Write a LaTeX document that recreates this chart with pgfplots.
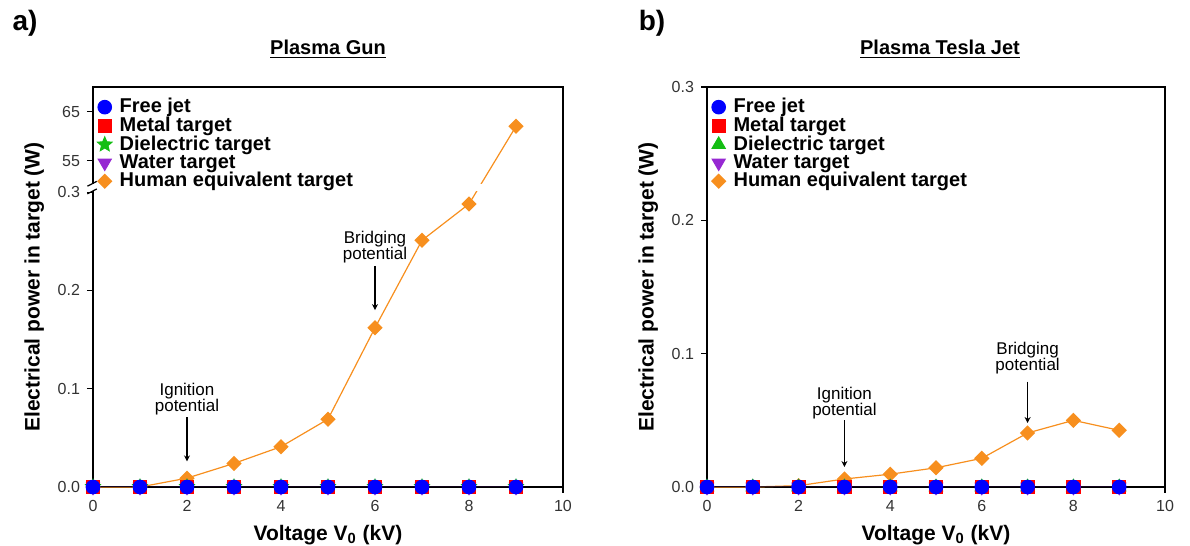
\documentclass[border=0pt]{standalone}
\usepackage{pgfplots}
\pgfplotsset{compat=1.18}
\usepackage{fontspec}
\setmainfont{Liberation Sans}
\usetikzlibrary{plotmarks,arrows.meta}

\definecolor{hjorange}{RGB}{247,143,30}
\definecolor{wpurple}{RGB}{150,40,210}
\definecolor{dgreen}{RGB}{20,190,20}

% filled five-pointed star
\pgfdeclareplotmark{fstar}{%
  \pgfpathmoveto{\pgfpointpolar{90}{\pgfplotmarksize}}%
  \pgfpathlineto{\pgfpointpolar{126}{0.45\pgfplotmarksize}}%
  \pgfpathlineto{\pgfpointpolar{162}{\pgfplotmarksize}}%
  \pgfpathlineto{\pgfpointpolar{198}{0.45\pgfplotmarksize}}%
  \pgfpathlineto{\pgfpointpolar{234}{\pgfplotmarksize}}%
  \pgfpathlineto{\pgfpointpolar{270}{0.45\pgfplotmarksize}}%
  \pgfpathlineto{\pgfpointpolar{306}{\pgfplotmarksize}}%
  \pgfpathlineto{\pgfpointpolar{342}{0.45\pgfplotmarksize}}%
  \pgfpathlineto{\pgfpointpolar{18}{\pgfplotmarksize}}%
  \pgfpathlineto{\pgfpointpolar{54}{0.45\pgfplotmarksize}}%
  \pgfpathclose
  \pgfusepathqfillstroke}

\tikzset{
  note/.style={align=center, font=\fontsize{8.5}{8}\selectfont},
  arr/.style={-{Stealth[length=3pt,width=3pt]}, line width=0.6pt},
}

\pgfplotsset{
  panel/.style={
    scale only axis, height=200pt,
    xmin=0, xmax=10, ymin=0,
    xtick={0,2,...,10},
    tick align=outside, xtick pos=left, ytick pos=left,
    major tick length=3pt,
    axis line style={line width=1pt},
    every tick/.style={black, line width=0.6pt},
    tick label style={font=\fontsize{8}{8}\selectfont, text=black!80},
    /pgf/number format/assume math mode=true,
    label style={font=\bfseries\fontsize{10.5}{11}\selectfont},
    xlabel={Voltage V\textsubscript{0} (kV)},
    ylabel={Electrical power in target (W)},
    clip=false,
    legend style={draw=none, fill=none, at={(0.005,0.978)}, anchor=north west,
      font=\bfseries\fontsize{10}{9}\selectfont, row sep=-0.6pt, inner sep=0.5pt,
      nodes={inner sep=0.6pt}},
    legend cell align=left,
    legend image code/.code={\draw[##1] plot coordinates {(0.13cm,0cm)};
      \path (0cm,0cm) (0.36cm,0cm);},
    reverse legend,
  },
  zero/.style={black!85!wpurple, line width=0.5pt},
  human/.style={hjorange, line width=0.6pt, mark=square*, mark size=2.4pt,
    mark options={rotate=45, fill=hjorange, draw=hjorange}},
  water/.style={zero, mark=triangle*, mark size=3.8pt,
    mark options={rotate=180, fill=wpurple, draw=wpurple}},
  metal/.style={zero, mark=square*, mark size=3.3pt,
    mark options={fill=red, draw=red}},
  freejet/.style={zero, mark=*, mark size=3.4pt,
    mark options={fill=blue, draw=blue}},
}

\begin{document}
\begin{tikzpicture}
\useasboundingbox (-46.5pt,-29.5pt) rectangle (548.5pt,243.5pt);

% a) Plasma Gun, broken y axis
\begin{axis}[panel, width=235pt, at={(0pt,0pt)}, anchor=south west,
  y coord trafo/.code={\pgfmathparse{(#1>1)?(307+(#1-50)*5):(min(#1,1)*1000)}},
  y coord inv trafo/.code={\pgfmathparse{(#1>303.5)?(50+(#1-307)/5):(#1/1000)}},
  ymax=70,
  ytick={0,0.1,0.2,0.3,55,65},
  yticklabels={0.0,0.1,0.2,0.3,55,65},
]
\addplot[human] coordinates {(0,0) (1,0) (2,0.009) (3,0.024) (4,0.041) (5,0.069) (6,0.162) (7,0.251) (8,0.288) (9,62)};
\addlegendentry{Human equivalent target}
\addplot[water] coordinates {(0,0) (1,0) (2,0) (3,0) (4,0) (5,0) (6,0) (7,0) (8,0) (9,0)};
\addlegendentry{Water target}
\addplot[zero, mark=fstar, mark size=3.8pt, mark options={fill=dgreen, draw=dgreen}] coordinates {(0,0) (1,0) (2,0) (3,0) (4,0) (5,0) (6,0) (7,0) (8,0) (9,0)};
\addlegendentry{Dielectric target}
\addplot[metal] coordinates {(0,0) (1,0) (2,0) (3,0) (4,0) (5,0) (6,0) (7,0) (8,0) (9,0)};
\addlegendentry{Metal target}
\addplot[freejet] coordinates {(0,0) (1,0) (2,0) (3,0) (4,0) (5,0) (6,0) (7,0) (8,0) (9,0)};
\addlegendentry{Free jet}
% axis break
\fill[white] (rel axis cs:-0.01,0.741) rectangle (rel axis cs:0.98,0.757);
\draw[line width=0.6pt] (rel axis cs:-0.012,0.733) -- (rel axis cs:0.008,0.745);
\draw[line width=0.6pt] (rel axis cs:-0.012,0.752) -- (rel axis cs:0.008,0.764);
\node[note] at (axis cs:2,0.089) {Ignition\\potential};
\draw[arr] (axis cs:2,0.071) -- (axis cs:2,0.026);
\node[note] at (axis cs:6,0.244) {Bridging\\potential};
\draw[arr] (axis cs:6,0.225) -- (axis cs:6,0.180);
\end{axis}

% b) Plasma Tesla Jet
\begin{axis}[panel, width=229pt, at={(307pt,0pt)}, anchor=south west,
  ymax=0.3,
  ytick={0,0.1,0.2,0.3},
  yticklabels={0.0,0.1,0.2,0.3},
]
\addplot[human] coordinates {(0,0) (1,0) (2,0.001) (3,0.006) (4,0.0096) (5,0.0144) (6,0.0215) (7,0.0405) (8,0.050) (9,0.0425)};
\addlegendentry{Human equivalent target}
\addplot[water] coordinates {(0,0) (1,0) (2,0) (3,0) (4,0) (5,0) (6,0) (7,0) (8,0) (9,0)};
\addlegendentry{Water target}
\addplot[zero, mark=triangle*, mark size=3.8pt, mark options={fill=dgreen, draw=dgreen}] coordinates {(0,0) (1,0) (2,0) (3,0) (4,0) (5,0) (6,0) (7,0) (8,0) (9,0)};
\addlegendentry{Dielectric target}
\addplot[metal] coordinates {(0,0) (1,0) (2,0) (3,0) (4,0) (5,0) (6,0) (7,0) (8,0) (9,0)};
\addlegendentry{Metal target}
\addplot[freejet] coordinates {(0,0) (1,0) (2,0) (3,0) (4,0) (5,0) (6,0) (7,0) (8,0) (9,0)};
\addlegendentry{Free jet}
\node[note] at (axis cs:3,0.063) {Ignition\\potential};
\draw[arr] (axis cs:3,0.050) -- (axis cs:3,0.015);
\node[note] at (axis cs:7,0.097) {Bridging\\potential};
\draw[arr] (axis cs:7,0.079) -- (axis cs:7,0.048);
\end{axis}

\node[font=\bfseries\fontsize{14}{14}\selectfont] at (-34pt,232pt) {a)};
\node[font=\bfseries\fontsize{14}{14}\selectfont] at (279.5pt,232pt) {b)};
\node[font=\bfseries\fontsize{10}{10}\selectfont] at (117.5pt,219pt) {\underline{Plasma Gun}};
\node[font=\bfseries\fontsize{10}{10}\selectfont] at (423.5pt,219pt) {\underline{Plasma Tesla Jet}};
\end{tikzpicture}
\end{document}
